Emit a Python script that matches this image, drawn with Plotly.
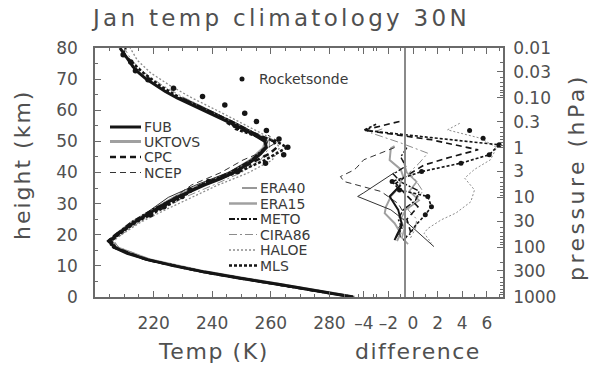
import plotly.graph_objects as go

# ---------------- data ----------------
# Temperature profiles (height km, temperature K)
fub_z = list(range(0, 82, 2))
fub_t = [288, 276, 263, 249.5, 237.5, 227, 218, 211, 206.5, 205, 207.5, 210.5, 213.5, 217,
         220.5, 224, 228, 232.5, 237.5, 243, 247.5, 251, 254, 256.5, 258.5, 258, 254.5,
         250.5, 246, 241.5, 237, 232, 228, 224, 220.5, 217.5, 215, 213, 211.5, 210, 208.5]

uktovs_z = [0, 4, 8, 12, 16, 18, 20, 24, 28, 32, 36, 40, 44, 48, 50, 52, 56, 60, 64]
uktovs_t = [288.5, 263.5, 238, 218.5, 207, 205.5, 207.5, 213, 220, 227.5, 236.5, 246.5, 253.5,
            258, 258.5, 255, 247, 238.5, 229.5]

cpc_z = [0, 4, 8, 12, 16, 18, 20, 24, 28, 32, 36, 40, 44, 46, 48, 50, 52, 54, 56]
cpc_t = [288, 262.5, 237, 217.5, 206.5, 204.5, 207, 213.5, 221, 228.5, 236.5, 247, 255.5,
         259.5, 262, 261, 256, 249, 245]

ncep_z = [0, 4, 8, 12, 16, 18, 20, 24, 28, 32, 36, 40, 44, 46, 48, 50, 52]
ncep_t = [288, 263, 237.5, 217.5, 206, 204.5, 207, 213, 220, 227, 233, 243, 250.5, 255.5,
          259, 262.5, 259]

era40_z = [0, 4, 8, 12, 16, 18, 20, 24, 28, 32, 36, 40, 44, 48, 50, 52, 56, 60, 64]
era40_t = [288.5, 262.5, 237, 218, 206.5, 205, 208, 213.5, 219, 225, 234.5, 245.5, 253, 258,
           259, 256, 248, 239, 230]

era15_z = [0, 4, 8, 12, 16, 18, 20, 24, 28, 32, 36, 40, 44, 48, 50]
era15_t = [288, 263, 237.5, 217.5, 206.5, 205, 207, 212.5, 220, 227, 236, 246, 253, 257.5, 258]

meto_z = [0, 4, 8, 12, 16, 18, 20, 24, 28, 32, 36, 40, 44, 48, 50, 52, 56, 60, 64]
meto_t = [288, 263, 237.5, 217.5, 206, 204.5, 207, 212.5, 219.5, 228, 236.5, 246, 253.5, 258,
          258.5, 255.5, 247.5, 238.5, 229]

cira_z = [0, 4, 8, 12, 16, 18, 20, 24, 28, 32, 36, 40, 44, 48, 50, 52, 56, 60, 64, 68, 72, 76, 80]
cira_t = [288.5, 264, 238.5, 219, 208, 206.5, 209, 215, 222.5, 230.5, 240.5, 250, 256.5, 259.5,
          259.5, 256.5, 248, 239.5, 230.5, 223, 217, 212.5, 210]

haloe_z = [16, 18, 20, 24, 28, 32, 36, 40, 44, 48, 50, 52, 56, 60, 64, 68, 72, 76, 80]
haloe_t = [208, 206, 209, 215.5, 224, 233, 242, 252.5, 260.5, 263, 261.5, 258, 250, 241.5,
           233, 225.5, 219, 214.5, 212]

mls_z = [16, 18, 20, 24, 28, 32, 36, 40, 44, 48, 50, 52, 54, 56, 60, 64, 68, 72, 76, 78, 80]
mls_t = [207, 205.5, 208, 214, 222, 229.5, 236, 248.5, 258, 265.5, 262, 254, 248, 246.5, 238,
         229, 222, 216.5, 212, 209.5, 210.5]

rocket_z = [77.8, 75.5, 72.7, 69.8, 67.1, 64.4, 61.7, 59.0, 56.4, 53.5, 50.8, 48.1, 45.7, 43.0,
            40.3, 37.1, 34.4, 32.3, 29.0, 26.4]
rocket_t = [209.6, 212.2, 213.8, 218.1, 226.8, 236.7, 244.3, 251.1, 255.1, 258.5, 262.8, 265.8,
            264.4, 258.2, 248.7, 238.8, 232.4, 229.7, 223.5, 219.0]

# Difference profiles (height km, difference K)
d_fub_z = [36, 32.3, 28, 23.1, 20, 18.3]
d_fub = [-1.0, -1.9, -1.2, -0.9, -1.3, -1.5]
d_uktovs_z = [48.5, 47.8, 44, 41, 38.7, 35, 32.3, 29, 26.9, 23.7, 20.5, 18]
d_uktovs = [-1.5, -1.8, -1.9, -1.0, -0.8, -1.2, -1.8, -2.2, -2.3, -1.5, -1.0, -1.3]
d_cpc_z = [56.4, 53.6, 50.5, 47.3, 44.9, 42.4, 39.5, 36.5, 33, 29, 25, 21, 18]
d_cpc = [-1.1, -4.0, 1.5, 5.3, 3.0, 0.9, -0.3, -1.4, -0.6, 0.4, -0.5, -0.2, -0.8]
d_ncep_z = [48, 45.7, 44.1, 41.5, 40.8, 38.7, 37.1, 33.9, 30, 26, 22, 19]
d_ncep = [-1.5, -2.9, -4.0, -4.6, -4.8, -5.9, -5.6, -2.6, -1.2, -0.6, -1.2, -1.0]
d_era40_z = [40, 36, 33.5, 32.3, 28, 24, 20, 16.2]
d_era40 = [-1.5, -3.0, -4.0, -4.5, -1.8, -0.5, 0.6, 1.7]
d_era15_z = [44, 40, 37, 34, 31, 28, 25, 22, 19, 17]
d_era15 = [-0.8, -0.5, 0.3, -0.3, 0.5, -0.6, -1.0, -0.7, -0.9, -0.4]
d_meto_z = [48, 45, 42, 39.5, 37, 34, 31, 28, 25, 22, 19]
d_meto = [-0.5, -1.0, -0.6, -1.6, -1.0, 0.5, 0.2, -0.8, -1.2, -0.9, -1.4]
d_cira_z = [54, 52.7, 49.5, 46.2, 43, 40, 37, 34, 31, 28, 25, 22, 19]
d_cira = [-2.5, -3.4, -1.0, 1.2, 0.5, -0.3, 0.3, 0.8, 0.2, -0.4, 0.3, 0.2, -0.2]
d_haloe_z = [55.8, 53.7, 51, 48, 44.1, 41, 38.2, 34.4, 30.6, 27, 24.8, 22, 20.5, 17.3]
d_haloe = [3.8, 2.8, 5.5, 6.8, 6.3, 5.0, 4.2, 5.0, 4.7, 3.5, 2.3, 1.2, 0.9, 1.5]
d_mls_z = [55.5, 53.6, 51.2, 48.9, 45.7, 43.0, 40.3, 37.1, 34.4, 32.3, 29.0, 26.4, 23, 20]
d_mls = [-3.0, -4.0, 1.5, 7.0, 6.2, 3.9, 0.7, -1.7, -1.1, 1.2, 1.5, 1.0, 0.2, -0.3]
d_rocket_z = [53.5, 51.0, 48.9, 45.7, 43.0, 40.3, 37.1, 34.4, 32.3, 29.0, 26.4]
d_rocket = [4.6, 5.7, 7.0, 6.2, 3.9, 0.7, -1.7, -1.1, 1.2, 1.5, 1.0]

# Axis ticks
temp_ticks = [220, 240, 260, 280]
temp_minor = [205, 210, 215, 225, 230, 235, 245, 250, 255, 265, 270, 275, 285, 290, 295, 300]
diff_ticks = [-4, -2, 0, 2, 4, 6]
diff_labels = ['\u20134', '\u20132', '0', '2', '4', '6']
diff_minor = [-3, -1, 1, 3, 5, 7]
height_ticks = [0, 10, 20, 30, 40, 50, 60, 70, 80]
height_minor = [5, 15, 25, 35, 45, 55, 65, 75]
p_ticks = [1000, 300, 100, 30, 10, 3, 1, 0.3, 0.1, 0.03, 0.01]
p_labels = ['1000', '300', '100', '30', '10', '3', '1', '0.3', '0.10', '0.03', '0.01']
p_minor = [m * 10.0 ** e for e in range(-2, 3) for m in range(2, 10)]

# ---------------- styling ----------------
W, H = 589, 367
PL, PR, PT, PB = 95, 503, 48, 297
FONT = 'DejaVu Sans'
TXT = '#505050'
AX = '#6a6a6a'
BLACK = '#151515'
GRAY = '#a0a0a0'
LGRAY = '#8c8c8c'


def fx(xp):
    return (xp - PL) / (PR - PL)


def fy(yp):
    return (PB - yp) / (PB - PT)


styles = {
    'FUB': dict(color=BLACK, width=3, dash='solid'),
    'UKTOVS': dict(color=GRAY, width=3, dash='solid'),
    'CPC': dict(color=BLACK, width=2.5, dash='6px,4px'),
    'NCEP': dict(color='#333333', width=1, dash='6px,4px'),
    'ERA40': dict(color='#333333', width=1, dash='solid'),
    'ERA15': dict(color=GRAY, width=2.5, dash='solid'),
    'METO': dict(color=BLACK, width=2.2, dash='6px,2px,2px,2px'),
    'CIRA86': dict(color=LGRAY, width=1, dash='8px,3px,2px,3px'),
    'HALOE': dict(color=LGRAY, width=1.3, dash='2px,2px'),
    'MLS': dict(color=BLACK, width=2.5, dash='3px,2px'),
}


def thin(style, k=0.65):
    s = dict(style)
    s['width'] = max(1.0, s['width'] * k)
    return s


temp_series = [
    ('UKTOVS', uktovs_z, uktovs_t), ('ERA15', era15_z, era15_t), ('CIRA86', cira_z, cira_t),
    ('HALOE', haloe_z, haloe_t), ('NCEP', ncep_z, ncep_t), ('ERA40', era40_z, era40_t),
    ('METO', meto_z, meto_t), ('CPC', cpc_z, cpc_t), ('MLS', mls_z, mls_t), ('FUB', fub_z, fub_t),
]
diff_series = [
    ('UKTOVS', d_uktovs_z, d_uktovs), ('ERA15', d_era15_z, d_era15), ('CIRA86', d_cira_z, d_cira),
    ('HALOE', d_haloe_z, d_haloe), ('NCEP', d_ncep_z, d_ncep), ('ERA40', d_era40_z, d_era40),
    ('METO', d_meto_z, d_meto), ('CPC', d_cpc_z, d_cpc), ('MLS', d_mls_z, d_mls),
    ('FUB', d_fub_z, d_fub),
]

fig = go.Figure()
for name, z, t in temp_series:
    fig.add_trace(go.Scatter(x=t, y=z, mode='lines', name=name, line=styles[name],
                             xaxis='x', yaxis='y', showlegend=False))
for name, z, d in diff_series:
    fig.add_trace(go.Scatter(x=d, y=z, mode='lines', name=name + ' diff', line=thin(styles[name]),
                             xaxis='x2', yaxis='y', showlegend=False))
fig.add_trace(go.Scatter(x=rocket_t, y=rocket_z, mode='markers', name='Rocketsonde',
                         marker=dict(color=BLACK, size=5.5, symbol='circle'),
                         xaxis='x', yaxis='y', showlegend=False))
fig.add_trace(go.Scatter(x=d_rocket, y=d_rocket_z, mode='markers', name='Rocketsonde diff',
                         marker=dict(color=BLACK, size=5, symbol='circle'),
                         xaxis='x2', yaxis='y', showlegend=False))
# invisible carrier trace for the pressure axis
fig.add_trace(go.Scatter(x=[None] * len(p_ticks), y=p_ticks, mode='markers',
                         xaxis='x', yaxis='y2', showlegend=False, hoverinfo='skip'))

tickfont = dict(family=FONT, size=17, color=TXT)
common = dict(showgrid=False, zeroline=False, ticks='inside', tickcolor=AX, tickwidth=1.2,
              ticklen=6, showline=True, linecolor=AX, linewidth=1.5, tickfont=tickfont)

fig.update_layout(
    width=W, height=H, autosize=False,
    margin=dict(l=PL, r=W - PR, t=PT, b=H - PB, pad=0),
    paper_bgcolor='white', plot_bgcolor='white',
    showlegend=False,
    xaxis=dict(domain=[0, 1], range=[200, 200 + (PR - PL) / 2.93], tickmode='array',
               tickvals=temp_ticks, ticktext=[str(v) for v in temp_ticks], mirror='ticks',
               ticklabelstandoff=10,
               minor=dict(tickmode='array', tickvals=temp_minor, ticks='inside', ticklen=3,
                          tickcolor=AX, tickwidth=1), **common),
    xaxis2=dict(overlaying='x', side='bottom', anchor='y',
                range=[(PL - 413) / 12.3, (PR - 413) / 12.3], tickmode='array',
                tickvals=diff_ticks, ticktext=diff_labels, mirror='ticks', ticklabelstandoff=10,
                minor=dict(tickmode='array', tickvals=diff_minor, ticks='inside', ticklen=3,
                           tickcolor=AX, tickwidth=1), **common),
    yaxis=dict(domain=[0, 1], range=[0, 80], tickmode='array', tickvals=height_ticks,
               ticktext=[str(v) for v in height_ticks], ticklabelstandoff=12,
               minor=dict(tickmode='array', tickvals=height_minor, ticks='inside', ticklen=3,
                          tickcolor=AX, tickwidth=1), **common),
    yaxis2=dict(overlaying='y', side='right', anchor='x', type='log', range=[3, -2],
                tickmode='array', tickvals=p_ticks, ticktext=p_labels, ticklabelstandoff=5,
                minor=dict(tickmode='array', tickvals=p_minor, ticks='inside', ticklen=3,
                           tickcolor=AX, tickwidth=1), **common),
)

# divider line between the temperature and difference panels
fig.add_shape(type='line', xref='paper', yref='paper', x0=fx(405), x1=fx(405), y0=0, y1=1,
              line=dict(color='#8a8a8a', width=2))


def spaced(text, sp):
    return '<span style="letter-spacing:%spx">%s</span>' % (sp, text)


ann = []
ann.append(dict(text=spaced('Jan temp climatology 30N', 3.3), x=fx(280), y=fy(18),
                font=dict(family=FONT, size=23, color=TXT)))
ann.append(dict(text=spaced('height (km)', 2.0), x=fx(22), y=fy(165), textangle=-90,
                font=dict(family=FONT, size=22, color=TXT)))
ann.append(dict(text=spaced('pressure (hPa)', 3.5), x=fx(576), y=fy(177), textangle=-90,
                font=dict(family=FONT, size=22, color=TXT)))
ann.append(dict(text=spaced('Temp (K)', 1.6), x=fx(213), y=fy(351),
                font=dict(family=FONT, size=22, color=TXT)))
ann.append(dict(text=spaced('difference', 1.5), x=fx(418), y=fy(351),
                font=dict(family=FONT, size=22, color=TXT)))

# legend groups (sample line + label)
leg1 = [('FUB', 127), ('UKTOVS', 141.5), ('CPC', 157), ('NCEP', 172.5)]
leg2 = [('ERA40', 188), ('ERA15', 203.5), ('METO', 219), ('CIRA86', 234.5), ('HALOE', 250),
        ('MLS', 265.5)]
LEGFONT = dict(family=FONT, size=14, color='#3a3a3a')
for name, yp in leg1:
    fig.add_shape(type='line', xref='paper', yref='paper', x0=fx(110), x1=fx(141),
                  y0=fy(yp), y1=fy(yp), line=styles[name])
    ann.append(dict(text=name, x=fx(142), y=fy(yp), xanchor='left', font=LEGFONT))
for name, yp in leg2:
    x0 = 242 if name == 'ERA40' else 229
    fig.add_shape(type='line', xref='paper', yref='paper', x0=fx(x0), x1=fx(257),
                  y0=fy(yp), y1=fy(yp), line=styles[name])
    ann.append(dict(text=name, x=fx(258), y=fy(yp), xanchor='left', font=LEGFONT))
fig.add_shape(type='circle', xref='paper', yref='paper', x0=fx(239.5), x1=fx(244.5),
              y0=fy(76.5), y1=fy(81.5), fillcolor=BLACK, line=dict(color=BLACK, width=0))
ann.append(dict(text='Rocketsonde', x=fx(257), y=fy(79), xanchor='left', font=LEGFONT))

for a in ann:
    a.setdefault('xanchor', 'center')
    a.update(xref='paper', yref='paper', yanchor='middle', showarrow=False)
fig.update_layout(annotations=ann)

fig.write_html('out.html')
